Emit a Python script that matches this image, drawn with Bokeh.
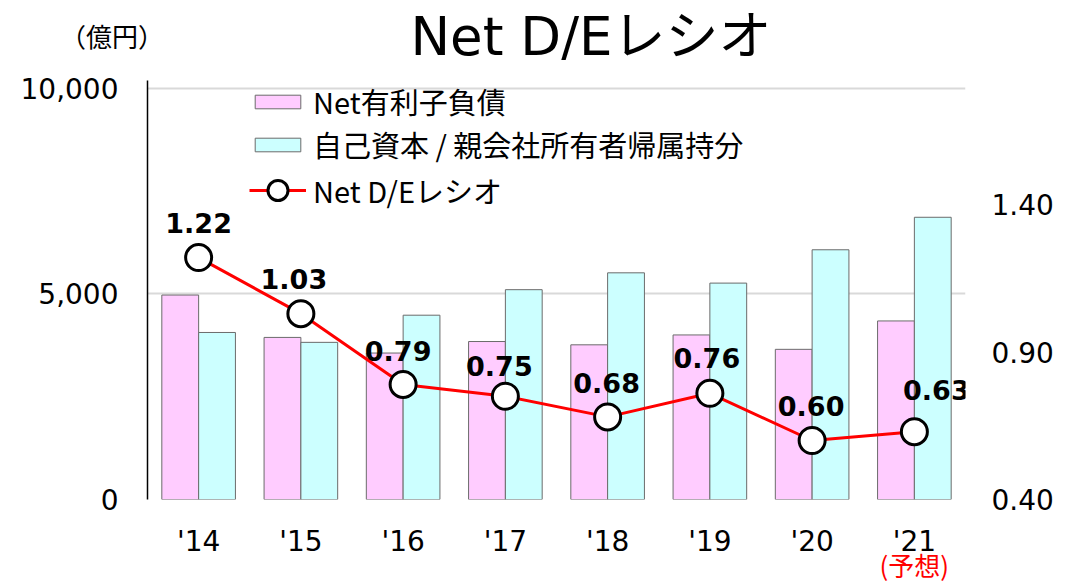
from bokeh.plotting import figure
from bokeh.layouts import column
from bokeh.models import (ColumnDataSource, Range1d, LinearAxis, FactorRange, CategoricalAxis,
                          NumeralTickFormatter, FixedTicker, Legend, LegendItem, Div,
                          CustomJSTickFormatter)
from bokeh.transform import dodge
from bokeh.core.properties import value
from bokeh.embed import file_html
from bokeh.resources import INLINE

# ---- data ----
years = ["'14", "'15", "'16", "'17", "'18", "'19", "'20", "'21"]
net_debt = [4970, 3940, 3560, 3840, 3760, 4000, 3650, 4340]
equity = [4060, 3820, 4480, 5100, 5510, 5260, 6070, 6860]
de_ratio = [1.22, 1.03, 0.79, 0.75, 0.68, 0.76, 0.60, 0.63]
de_labels = ["1.22", "1.03", "0.79", "0.75", "0.68", "0.76", "0.60", "0.63"]
note_years = ["'21"]
note_texts = ["(予想)"]
title_text = "Net D/Eレシオ"
unit_text = "（億円）"
legend_labels = ["Net有利子負債", "自己資本 / 親会社所有者帰属持分", "Net D/Eレシオ"]

# label placement (styling, pixels)
lbl_dx = [0, -7, -5, -6, -1, -3, -1, 22]
lbl_dy = [-35, -35, -33, -30, -34, -35, -35, -42]

JP = "Noto Sans CJK JP"
NUM = "DejaVu Sans"
HEAD_H = 70

# ---------------- header (title + unit) ----------------
head = Div(width=1080, height=HEAD_H, margin=0, text=(
    f'<div style="position:relative;width:1080px;height:{HEAD_H}px;color:black;'
    f'font-family:\'{JP}\';white-space:nowrap">'
    '<div style="position:absolute;left:241px;top:7px;width:700px;text-align:center;'
    f'font-family:\'{NUM}\',\'{JP}\';font-size:53px;line-height:60px">{title_text}</div>'
    '<div style="position:absolute;left:12px;top:17px;width:200px;text-align:center;'
    f'font-size:26px;line-height:normal">{unit_text}</div>'
    '</div>'))

# ---------------- main chart ----------------
src = ColumnDataSource(dict(year=years, debt=net_debt, eq=equity, de=de_ratio,
                            txt=de_labels, dx=lbl_dx, dy=lbl_dy))

PX_PER_5000 = 205.7
PX_PER_RATIO = 295.0
FRAME_H = 419
y_top = 5000 * FRAME_H / PX_PER_5000
r_top = 0.40 + FRAME_H / PX_PER_RATIO

p = figure(frame_width=818, frame_height=FRAME_H, x_range=FactorRange(*years),
           y_range=Range1d(0, y_top), output_backend="svg", toolbar_location=None,
           min_border_left=147, min_border_right=115, min_border_top=80 - HEAD_H,
           min_border_bottom=85)
p.extra_y_ranges = {"r": Range1d(0.40, r_top)}
p.outline_line_color = None

r_debt = p.vbar(x=dodge("year", -0.18, range=p.x_range), top="debt", width=0.36, source=src,
                fill_color="#FFCCFF", line_color="#6b6b6b", line_width=1)
r_eq = p.vbar(x=dodge("year", 0.18, range=p.x_range), top="eq", width=0.36, source=src,
              fill_color="#CCFFFF", line_color="#6b6b6b", line_width=1)
r_line = p.line(x="year", y="de", source=src, y_range_name="r", line_color="#FF0000", line_width=3)
r_pts = p.scatter(x="year", y="de", source=src, y_range_name="r", size=26,
                  fill_color="white", line_color="black", line_width=3)
p.text(x="year", y="de", text="txt", source=src, y_range_name="r",
       x_offset="dx", y_offset="dy", text_align="center", text_baseline="middle",
       text_font=value(NUM), text_font_style="bold", text_font_size="27px", text_color="black")

# axes
yl = p.yaxis[0]
yl.ticker = FixedTicker(ticks=[0, 5000, 10000])
yl.formatter = NumeralTickFormatter(format="0,0")
yl.axis_line_color = "black"
yl.axis_line_width = 1.5
yl.major_tick_line_color = None
yl.minor_tick_line_color = None
yl.major_label_text_font = NUM
yl.major_label_text_font_size = "28px"
yl.major_label_text_color = "black"
yl.major_label_standoff = 23

yr = LinearAxis(y_range_name="r", ticker=FixedTicker(ticks=[0.40, 0.90, 1.40]),
                formatter=NumeralTickFormatter(format="0.00"))
yr.axis_line_color = None
yr.major_tick_line_color = None
yr.minor_tick_line_color = None
yr.major_label_text_font = NUM
yr.major_label_text_font_size = "28px"
yr.major_label_text_color = "black"
yr.major_label_standoff = 20
p.add_layout(yr, "right")

xa = p.xaxis[0]
xa.axis_line_color = None
xa.major_tick_line_color = None
xa.minor_tick_line_color = None
xa.major_label_text_font = NUM
xa.major_label_text_font_size = "28px"
xa.major_label_text_color = "black"
xa.major_label_standoff = 19

xn = CategoricalAxis(formatter=CustomJSTickFormatter(
    args=dict(ks=note_years, vs=note_texts),
    code="const i = ks.indexOf(tick); return i >= 0 ? vs[i] : ' ';"))
xn.axis_line_color = None
xn.major_tick_line_color = None
xn.minor_tick_line_color = None
xn.major_label_text_font = JP
xn.major_label_text_font_size = "26px"
xn.major_label_text_color = "#FF0000"
xn.major_label_standoff = -21
p.add_layout(xn, "below")

p.xgrid.grid_line_color = None
p.ygrid.grid_line_color = "#d9d9d9"
p.ygrid.grid_line_width = 2
p.ygrid.ticker = FixedTicker(ticks=[0, 5000, 10000])


def style_legend(lg, gh, sp):
    lg.label_text_font = JP
    lg.label_text_font_size = "29px"
    lg.label_text_color = "black"
    lg.glyph_width = 57
    lg.glyph_height = gh
    lg.label_standoff = 7
    lg.spacing = sp
    lg.padding = 0
    lg.margin = 0
    lg.border_line_color = None
    lg.background_fill_alpha = 0


leg_a = Legend(items=[LegendItem(label=legend_labels[0], renderers=[r_debt]),
                      LegendItem(label=legend_labels[1], renderers=[r_eq])],
               location=(102, 334))
style_legend(leg_a, 17, 1)
leg_b = Legend(items=[LegendItem(label=legend_labels[2], renderers=[r_line, r_pts])],
               location=(102, 284))
style_legend(leg_b, 50, 6)
p.add_layout(leg_a)
p.add_layout(leg_b)

layout = column(head, p, spacing=0)
open("out.html", "w").write(file_html(layout, INLINE))
